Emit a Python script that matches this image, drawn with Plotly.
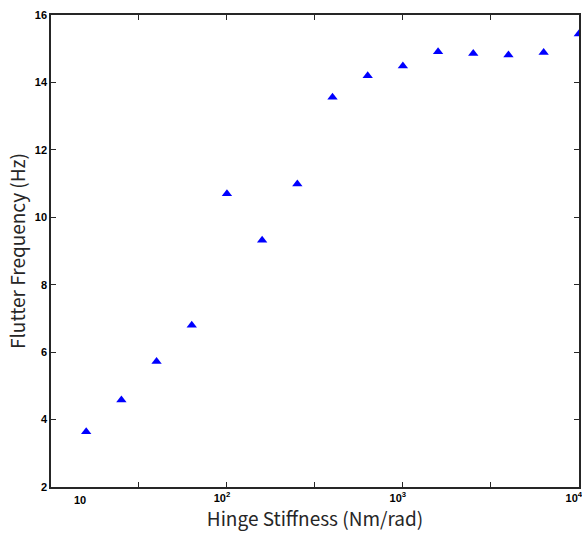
import plotly.graph_objects as go

# Messpunkte: Hinge Stiffness [Nm/rad] vs. Flutter Frequency [Hz]
stiffness = [15.85, 25.12, 39.81, 63.10, 100.0, 158.5, 251.2, 398.1,
             631.0, 1000.0, 1585.0, 2512.0, 3981.0, 6310.0, 10000.0]
flutter_freq = [3.64, 4.58, 5.72, 6.80, 10.70, 9.32, 10.99, 13.56,
                14.20, 14.49, 14.91, 14.86, 14.81, 14.89, 15.44]

# Achsen-Ticks (MATLAB-Stil: Halbdekaden-Striche, Beschriftung nur an Dekaden)
x_tickvals = [31.62, 100, 316.2, 1000, 3162, 10000]
x_ticktext = ["", "10<sup>2</sup>", "", "10<sup>3</sup>", "", "10<sup>4</sup>"]
y_tickvals = [2, 4, 6, 8, 10, 12, 14, 16]

AXIS_COLOR = "#262626"
TICK_FONT = dict(family="Liberation Sans", size=11, color="#000000", weight="bold")
TITLE_FONT = dict(family="Noto Sans CJK KR", size=19, color="#262626")

fig = go.Figure()
fig.add_trace(go.Scatter(
    x=stiffness, y=flutter_freq,
    mode="markers",
    marker=dict(symbol="triangle-up", size=9, color="#0000ff"),
    cliponaxis=True,
    showlegend=False,
))

fig.update_layout(
    width=582, height=539,
    margin=dict(l=51, r=3, t=15, b=52),
    paper_bgcolor="white",
    plot_bgcolor="white",
    xaxis=dict(
        type="log", range=[1, 4.001],
        tickvals=x_tickvals, ticktext=x_ticktext,
        ticks="inside", ticklen=5, tickwidth=1, tickcolor=AXIS_COLOR,
        ticklabelshift=-5, ticklabeloverflow="allow",
        showline=True, linecolor=AXIS_COLOR, linewidth=1.5, mirror="ticks",
        showgrid=False, zeroline=False, automargin=False,
        tickfont=TICK_FONT,
        title=dict(text="Hinge Stiffness (Nm/rad)", font=TITLE_FONT, standoff=10),
    ),
    yaxis=dict(
        range=[2, 16],
        tickvals=y_tickvals,
        ticks="inside", ticklen=5, tickwidth=1, tickcolor=AXIS_COLOR,
        showline=True, linecolor=AXIS_COLOR, linewidth=1.5, mirror="ticks",
        showgrid=False, zeroline=False, automargin=False,
        tickfont=TICK_FONT,
        title=dict(text="Flutter Frequency (Hz)", font=TITLE_FONT, standoff=4),
    ),
    # Beschriftung "10" sitzt im Original leicht rechts vom linken Rand
    annotations=[dict(
        x=1.165, y=0, xref="x", yref="paper",
        text="10", showarrow=False,
        yanchor="top", yshift=-5,
        font=TICK_FONT,
    )],
)

# Body-Rand entfernen, damit die Figur genau ins Fenster passt
fig.write_html(
    "out.html",
    config={"displayModeBar": False},
    post_script="document.body.style.margin='0px';",
)
